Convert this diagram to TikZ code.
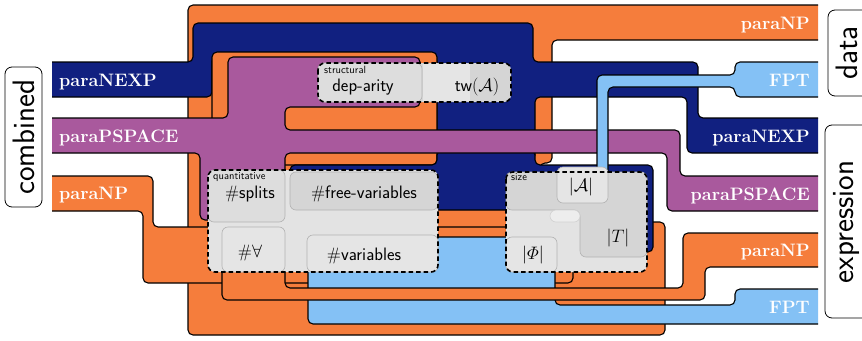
\RequirePackage{fix-cm}
\documentclass[tikz,border=0pt]{standalone}
\usepackage{fontspec}
\usepackage{amsfonts}
\usepackage{tikz}

\definecolor{clsnp}{RGB}{245,125,60}
\definecolor{clsnexp}{RGB}{17,32,128}
\definecolor{clspspace}{RGB}{169,89,157}
\definecolor{clsfpt}{RGB}{132,193,245}
\definecolor{grpfill}{RGB}{227,227,227}
\definecolor{parfill}{RGB}{221,221,221}
\definecolor{pardark}{RGB}{213,213,213}
\definecolor{parlight}{RGB}{229,229,229}

\begin{document}
\begin{tikzpicture}
	[x=1pt,y=-1pt,
	track/.style={draw,line width=1.1pt,rounded corners=5pt},
	classname/.style={text=white,font=\fontsize{18}{20}\selectfont\bfseries,inner sep=0pt},
	sidebox/.style={draw,line width=0.8pt,rounded corners=7pt,fill=white},
	sidename/.style={font=\fontsize{31}{34}\selectfont\sffamily,rotate=90,inner sep=0pt},
	parbox/.style={draw=black!30,line width=0.6pt,rounded corners=6pt},
	grpbox/.style={draw,line width=1.6pt,dash pattern=on 4.5pt off 3pt,rounded corners=7pt},
	parname/.style={font=\fontsize{18}{20}\selectfont\sffamily,inner sep=0pt},
	grpname/.style={font=\fontsize{10.5}{12}\selectfont\sffamily,inner sep=0pt,anchor=north west}]
	\useasboundingbox (0,0) rectangle (862,340);

	\begin{scope}
		\clip (52,0) rectangle (818,340);
		\draw[track,fill=clsnp] (188,5) -- (830,5) -- (830,40) -- (552,40) -- (552,163) -- (540,163)
			-- (540,222) -- (665,222) -- (665,335) -- (188,335) -- cycle;
		\draw[track,fill=clsnexp] (40,62) -- (193,62) -- (193,23) -- (533,23) -- (533,62) -- (698,62)
			-- (698,118) -- (830,118) -- (830,153) -- (687,153) -- (687,97) -- (535,97) -- (535,160)
			-- (437,160) -- (437,56) -- (212,56) -- (212,97) -- (40,97) -- cycle;
		\draw[track,fill=clsnp] (212,52) rectangle (437,165);
		\draw[track,fill=clsnexp] (290,165) -- (437,165) -- (437,150) -- (535,150) -- (535,165)
			-- (653,165) -- (653,252) -- (560,252) -- (560,210) -- (290,210) -- cycle;
		\draw[track,fill=clspspace] (40,118) -- (228,118) -- (228,57) -- (420,57) -- (420,107)
			-- (285,107) -- (285,130) -- (680,130) -- (680,176) -- (830,176) -- (830,211) -- (667,211)
			-- (667,153) -- (285,153) -- (285,220) -- (200,220) -- (200,153) -- (40,153) -- cycle;
		\draw[track,fill=clsfpt] (830,62) -- (735,62) -- (735,75) -- (597,75) -- (597,200) -- (608,200)
			-- (608,87) -- (735,87) -- (735,97) -- (830,97) -- cycle;
		\draw[track,fill=clsnp] (40,176) -- (153,176) -- (153,227) -- (573,227) -- (573,283)
			-- (143,283) -- (143,211) -- (40,211) -- cycle;
		\draw[track,fill=clsfpt] (308,237) -- (555,237) -- (555,305) -- (735,305) -- (735,289)
			-- (830,289) -- (830,324) -- (308,324) -- cycle;
		\draw[track,fill=clsnp] (222,227) -- (285,227) -- (285,288) -- (683,288) -- (683,233)
			-- (830,233) -- (830,267) -- (705,267) -- (705,300) -- (222,300) -- cycle;
	\end{scope}

	\node[classname,anchor=base west] (cnexp) at (59,86) {paraNEXP};
	\node[classname,anchor=base west] (cpspace) at (59,142) {paraPSPACE};
	\node[classname,anchor=base west] (cnp) at (59,199) {paraNP};
	\node[classname,anchor=base east] (dnp) at (810,29) {paraNP};
	\node[classname,anchor=base east] (dfpt) at (810,86) {FPT};
	\node[classname,anchor=base east] (enexp) at (810,142) {paraNEXP};
	\node[classname,anchor=base east] (epspace) at (810,200) {paraPSPACE};
	\node[classname,anchor=base east] (enp) at (810,256) {paraNP};
	\node[classname,anchor=base east] (efpt) at (810,313) {FPT};

	\draw[sidebox] (5,67) rectangle (42,207);
	\node[sidename] (combined) at (24,137) {combined};
	\draw[sidebox] (828,10) rectangle (872,96);
	\node[sidename] (data) at (846.5,53) {data};
	\draw[sidebox] (825,125) rectangle (872,318);
	\node[sidename] (expression) at (846.5,222) {expression};

	\fill[rounded corners=7pt,fill=pardark] (318,63) rectangle (511,102);
	\draw[parbox,fill=parfill] (318,63) rectangle (422,102);
	\fill[fill=parlight] (423,64) rectangle (470,101);
	\draw[grpbox] (318,63) rectangle (511,102);
	\node[grpname] (structural) at (324,66) {structural};
	\node[parname,anchor=base] (deparity) at (363,91) {dep-arity};
	\node[parname,anchor=base] (tw) at (477,91) {tw$(\mathcal{A})$};

	\fill[rounded corners=7pt,fill=grpfill] (208,170) rectangle (438,272);
	\draw[parbox,fill=parfill] (208,170) rectangle (285,222);
	\draw[parbox,fill=pardark] (290,172) rectangle (438,210);
	\draw[parbox,fill=parlight] (222,227) rectangle (285,272);
	\draw[parbox,fill=parlight] (307,235) rectangle (438,272);
	\draw[grpbox] (208,170) rectangle (438,272);
	\node[grpname] (quantitative) at (213,172) {quantitative};
	\node[parname,anchor=base] (splits) at (250,198) {\#splits};
	\node[parname,anchor=base] (freevars) at (364,198) {\#free-variables};
	\node[parname,anchor=base] (forall) at (250,257) {\#$\forall$};
	\node[parname,anchor=base] (vars) at (364,260) {\#variables};

	\fill[rounded corners=7pt,fill=grpfill] (506,172) rectangle (647,272);
	\draw[parbox,fill=pardark] (506,172) -- (647,172) -- (647,257) -- (580,257) -- (580,210)
		-- (506,210) -- cycle;
	\draw[parbox,fill=parlight] (557,167) rectangle (608,203);
	\draw[parbox,draw=black!18,fill=black!7] (550,210) rectangle (580,222);
	\draw[parbox,fill=parlight] (506,237) rectangle (557,272);
	\draw[grpbox] (506,172) rectangle (647,272);
	\node[grpname] (size) at (511,173) {size};
	\node[parname] (asize) at (581,187) {$|\mathcal{A}|$};
	\node[parname] (tsize) at (618,238) {$|T|$};
	\node[parname] (phisize) at (533,255) {$|\mathchar"108|$};
\end{tikzpicture}
\end{document}
